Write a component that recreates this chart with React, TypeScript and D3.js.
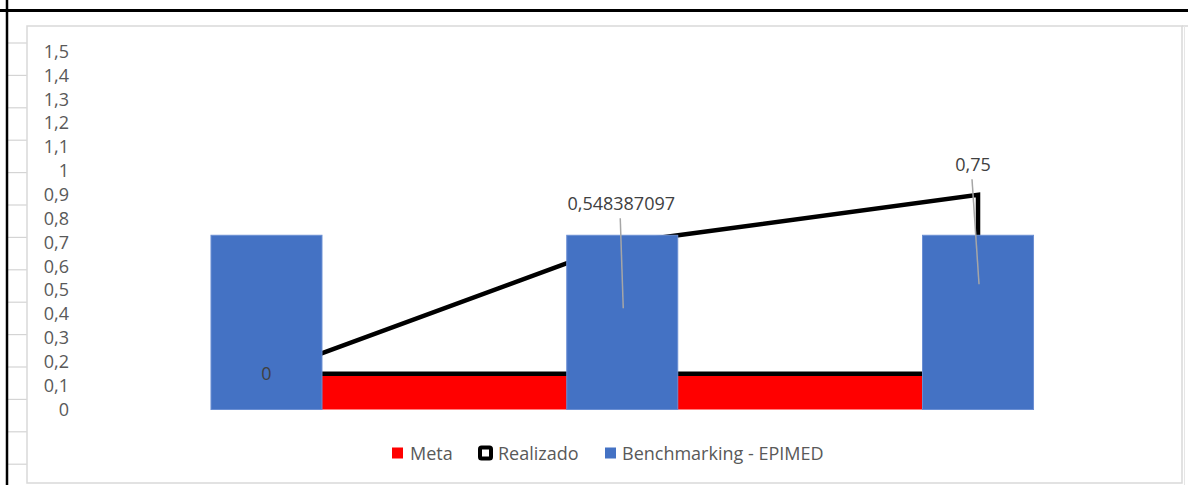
import React from "react";
import * as d3 from "d3";

const categories = ["1", "2", "3"];
const metaValues = [0.15, 0.15, 0.15];
const realizadoValues = [0, 0.548387097, 0.75];
const benchmarkValues = [0.73, 0.73, 0.73];
const yTicks = [0, 0.1, 0.2, 0.3, 0.4, 0.5, 0.6, 0.7, 0.8, 0.9, 1, 1.1, 1.2, 1.3, 1.4, 1.5];
const legendLabels = ["Meta", "Realizado", "Benchmarking - EPIMED"];

// layout-only: manual label displacement (like dragged Excel labels)
const labelOffsets = [
  { dx: 0, dy: 0, leader: false },
  { dx: -1, dy: -105, leader: true },
  { dx: -5, dy: -120, leader: true },
];

const W = 1188;
const H = 485;
const FONT = "'Open Sans', sans-serif";
const fmt = (v: number) => String(v).replace(".", ",");

export default function App() {
  const x = d3
    .scaleBand<string>()
    .domain(categories)
    .range([88.6, 1155.9])
    .paddingInner(0.688)
    .paddingOuter(0.344);
  const xc = (i: number) => (x(categories[i]) as number) + x.bandwidth() / 2;
  const y = d3.scaleLinear().domain([0, 1.5]).range([409.5, 51.5]);

  const rows = categories.map((c, i) => ({
    cat: c,
    meta: metaValues[i],
    realizado: realizadoValues[i],
  }));
  const stack = d3.stack<any>().keys(["meta", "realizado"]);
  const series = stack(rows);

  const area = d3
    .area<any>()
    .x((_d, i) => xc(i))
    .y0((d) => y(d[0]))
    .y1((d) => y(d[1]));

  const gridYs = d3.range(0, 14).map((k) => 43 + k * 32.4);

  const legendX = [392, 478, 605];

  return (
    <svg
      width={W}
      height={H}
      style={{ position: "absolute", left: 0, top: 0, background: "#fff" }}
    >
      {/* spreadsheet background */}
      <rect x={0} y={0} width={W} height={H} fill="#fff" />
      {gridYs.map((gy, i) => (
        <line key={i} x1={8} x2={27} y1={gy} y2={gy} stroke="#d4d4d4" strokeWidth={1.2} />
      ))}
      <line x1={0} x2={W} y1={10.5} y2={10.5} stroke="#000" strokeWidth={3} />
      <line x1={7} x2={7} y1={0} y2={H} stroke="#000" strokeWidth={2.5} />
      <line x1={1182} x2={W} y1={26} y2={26} stroke="#d9d9d9" strokeWidth={1.5} />
      <line x1={1184.5} x2={1184.5} y1={26} y2={H} stroke="#e6e6e6" strokeWidth={1} />

      {/* chart area */}
      <rect x={27} y={26} width={1155} height={457} fill="#fff" stroke="#d9d9d9" strokeWidth={1.5} />

      {/* y axis labels */}
      {yTicks.map((t) => (
        <text
          key={t}
          x={69}
          y={y(t)}
          dy="0.35em"
          textAnchor="end"
          fontFamily={FONT}
          fontSize={18}
          fill="#595959"
        >
          {fmt(t)}
        </text>
      ))}

      {/* stacked areas */}
      <path d={area(series[0] as any) || ""} fill="#ff0000" stroke="none" />
      <path
        d={area(series[1] as any) || ""}
        fill="#ffffff"
        stroke="#000"
        strokeWidth={4.5}
        strokeLinejoin="miter"
      />

      {/* bars */}
      {benchmarkValues.map((v, i) => (
        <rect
          key={i}
          x={x(categories[i])}
          y={y(v)}
          width={x.bandwidth()}
          height={y(0) - y(v)}
          fill="#4472c4"
          stroke="#6b8fd3"
          strokeWidth={1}
        />
      ))}

      {/* data labels for Realizado */}
      {realizadoValues.map((v, i) => {
        const s = series[1][i];
        const ax = xc(i);
        const ay = y((s[0] + s[1]) / 2);
        const o = labelOffsets[i];
        const lx = ax + o.dx;
        const ly = ay + o.dy;
        return (
          <g key={i}>
            {o.leader && (
              <line
                x1={lx - 1}
                y1={ly + 15}
                x2={ax + 1}
                y2={ay}
                stroke="#a6a6a6"
                strokeWidth={1.5}
              />
            )}
            <text
              x={lx}
              y={ly}
              dy="0.35em"
              textAnchor="middle"
              fontFamily={FONT}
              fontSize={18}
              fill="#404040"
            >
              {fmt(v)}
            </text>
          </g>
        );
      })}

      {/* legend */}
      <rect x={legendX[0]} y={447.5} width={11} height={11} fill="#ff0000" />
      <text x={legendX[0] + 18} y={454} dy="0.35em" fontFamily={FONT} fontSize={18} fill="#595959">
        {legendLabels[0]}
      </text>
      <rect
        x={legendX[1] + 2}
        y={449.5}
        width={11}
        height={11}
        rx={1.5}
        fill="#fff"
        stroke="#000"
        strokeWidth={4}
        transform="translate(0,-2)"
      />
      <text x={legendX[1] + 20} y={454} dy="0.35em" fontFamily={FONT} fontSize={18} fill="#595959">
        {legendLabels[1]}
      </text>
      <rect x={legendX[2]} y={447.5} width={11} height={11} fill="#4472c4" />
      <text x={legendX[2] + 17} y={454} dy="0.35em" fontFamily={FONT} fontSize={18} fill="#595959">
        {legendLabels[2]}
      </text>
    </svg>
  );
}
